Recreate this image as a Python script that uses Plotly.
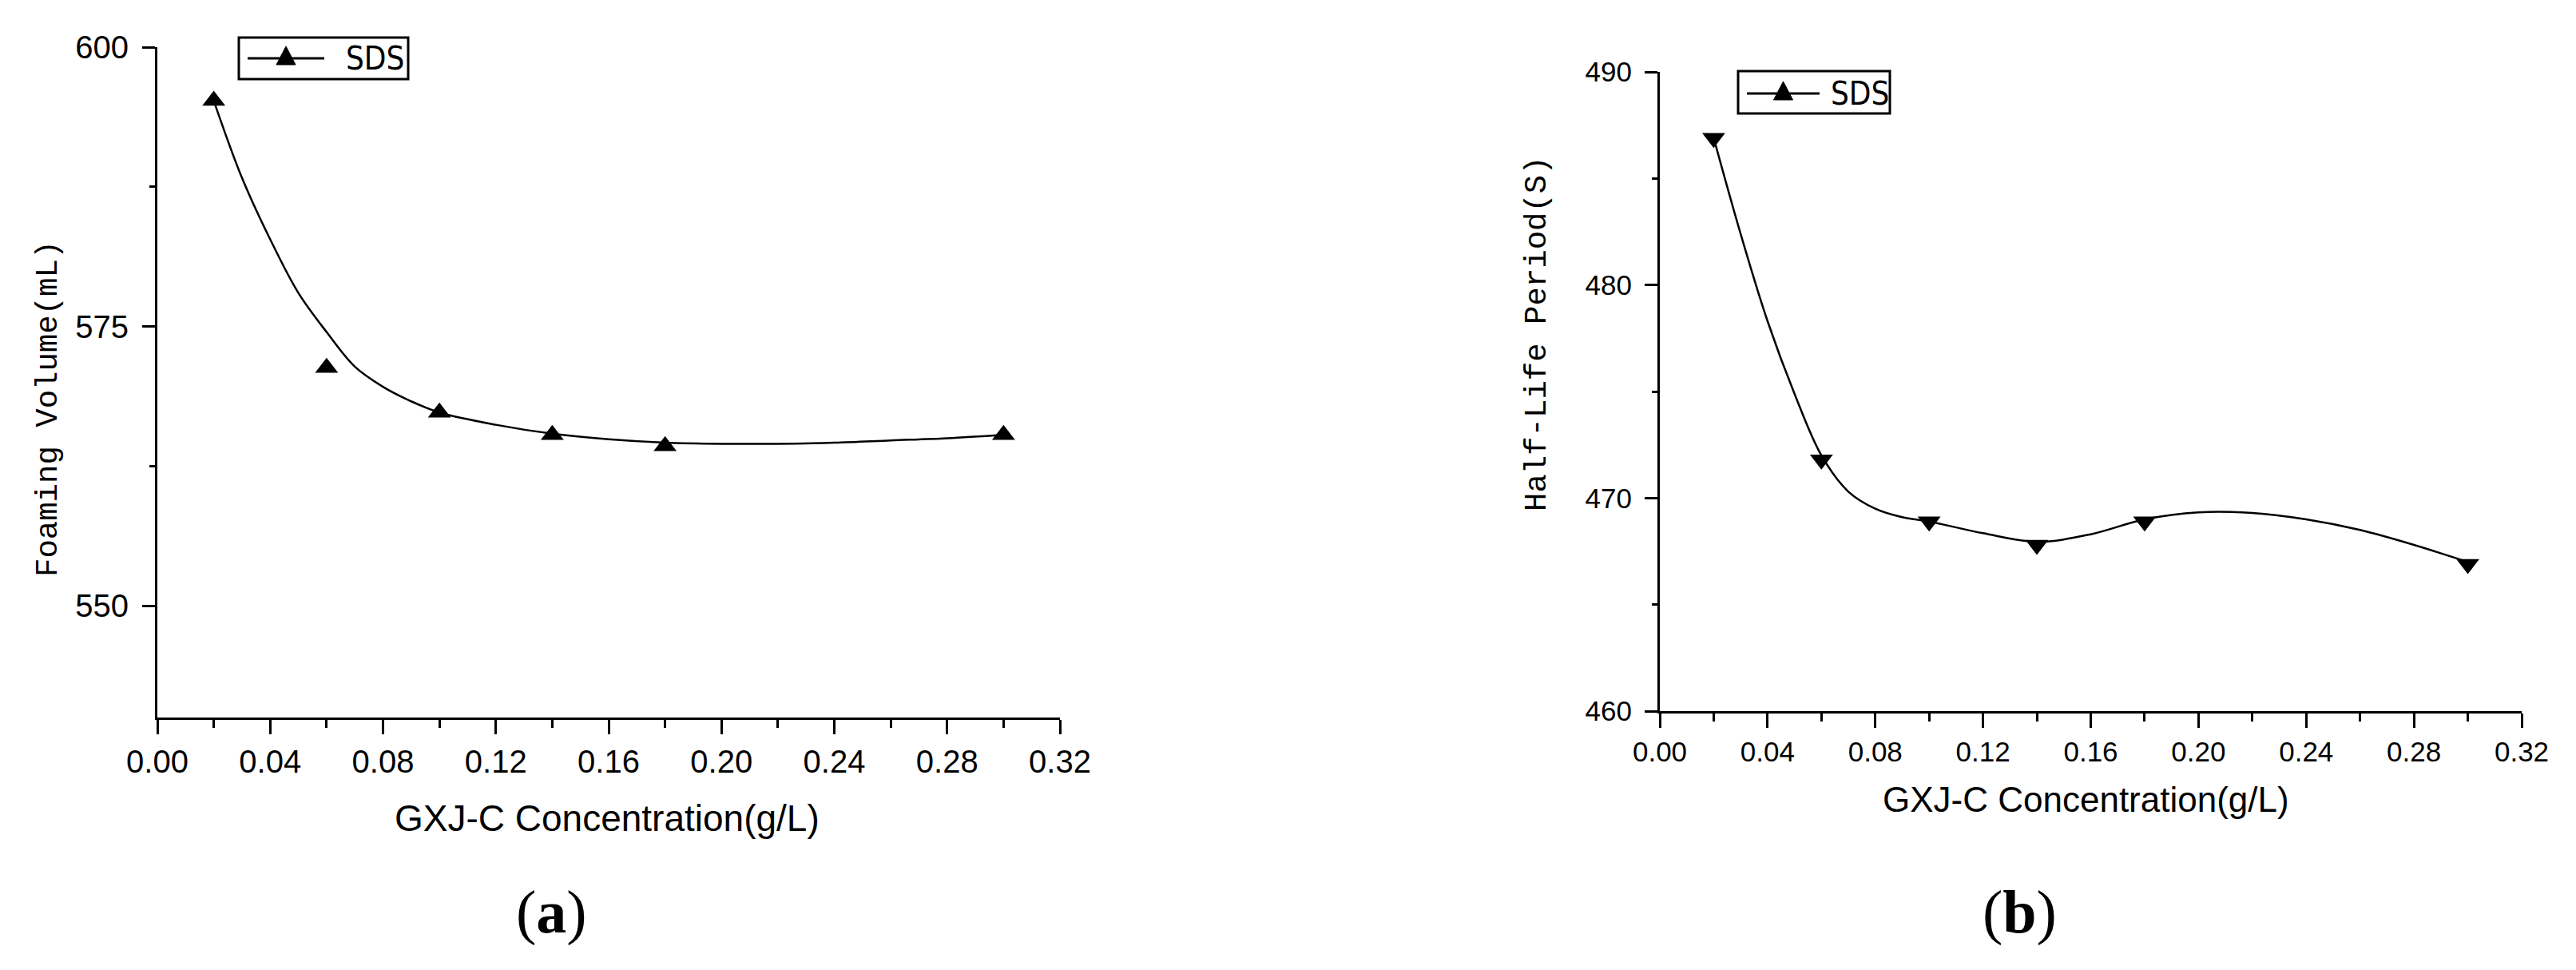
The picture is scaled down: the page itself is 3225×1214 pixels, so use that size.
import plotly.graph_objects as go

# ---- data ----
conc = [0.02, 0.06, 0.10, 0.14, 0.18, 0.30]
foam_volume = [595.2, 571.3, 567.3, 565.3, 564.3, 565.3]   # (a) mL
half_life = [486.9, 471.8, 468.9, 467.8, 468.9, 466.9]     # (b) s

# smoothed fit curves as drawn in the figure (sampled by eye)
curve_x = [0.02, 0.03, 0.04, 0.05, 0.06, 0.07, 0.08, 0.09, 0.10, 0.12,
           0.14, 0.16, 0.18, 0.20, 0.22, 0.24, 0.26, 0.28, 0.30]
foam_curve = [595.2, 588.3, 582.8, 578.0, 574.5, 571.4, 569.6, 568.3, 567.3, 566.2,
              565.4, 564.9, 564.6, 564.5, 564.5, 564.6, 564.8, 565.0, 565.3]
half_curve = [486.9, 482.4, 478.3, 474.9, 472.0, 470.3, 469.5, 469.1, 468.9, 468.35,
              467.95, 468.3, 469.0, 469.33, 469.3, 469.0, 468.5, 467.8, 467.0]

x_ticks = [0.00, 0.04, 0.08, 0.12, 0.16, 0.20, 0.24, 0.28, 0.32]
x_title = "GXJ-C Concentration(g/L)"
series_name = "SDS"

W, H = 3225, 1214
OFF = 8  # the page body margin shifts the figure by this much


def px(x):
    return (x - OFF) / W


def py(y):
    return 1 - (y - OFF) / H


SANS = "Liberation Sans, Arial, sans-serif"
MONO = "Liberation Mono, Courier New, monospace"
COND = "DejaVu Sans Condensed, Liberation Sans, sans-serif"

fig = go.Figure()

# ----------------------------
# (a) foaming volume
# ----------------------------
fig.add_trace(go.Scatter(x=curve_x, y=foam_curve, mode="lines", line=dict(color="black", width=2.5, shape="spline"),
                         xaxis="x", yaxis="y", showlegend=False, hoverinfo="skip"))
fig.add_trace(go.Scatter(x=conc, y=foam_volume, mode="markers", name=series_name,
                         marker=dict(symbol="triangle-up", size=25, color="black"),
                         xaxis="x", yaxis="y", showlegend=False))

# ----------------------------
# (b) half-life
# ----------------------------
fig.add_trace(go.Scatter(x=curve_x, y=half_curve, mode="lines", line=dict(color="black", width=2.5, shape="spline"),
                         xaxis="x2", yaxis="y2", showlegend=False, hoverinfo="skip"))
fig.add_trace(go.Scatter(x=conc, y=half_life, mode="markers", name=series_name,
                         marker=dict(symbol="triangle-down", size=25, color="black"),
                         xaxis="x2", yaxis="y2", showlegend=False))


def xaxis_style(domain, anchor, fsize):
    return dict(domain=domain, anchor=anchor, range=[0, 0.32], tickvals=x_ticks, tickformat=".2f",
                automargin=False,
                showline=True, linecolor="black", linewidth=3, showgrid=False, zeroline=False,
                ticks="outside", ticklen=18, tickwidth=3, tickcolor="black",
                tickfont=dict(family=SANS, size=fsize, color="black"),
                ticklabelstandoff=0,
                minor=dict(dtick=0.02, tick0=0, ticks="outside", ticklen=10, tickwidth=3, tickcolor="black"))


def yaxis_style(domain, anchor, rng, dtick, tick0, fsize):
    return dict(domain=domain, anchor=anchor, range=rng, dtick=dtick, tick0=tick0,
                automargin=False,
                showline=True, linecolor="black", linewidth=3, showgrid=False, zeroline=False,
                ticks="outside", ticklen=16, tickwidth=3, tickcolor="black",
                tickfont=dict(family=SANS, size=fsize, color="black"),
                ticklabelstandoff=9,
                minor=dict(dtick=dtick / 2, tick0=tick0, ticks="outside", ticklen=7, tickwidth=3, tickcolor="black"))


fig.update_layout(
    width=W, height=H,
    margin=dict(l=0, r=0, t=0, b=0, pad=0, autoexpand=False),
    paper_bgcolor="white", plot_bgcolor="white",
    xaxis=xaxis_style([px(197), px(1327)], "y", 40),
    yaxis=yaxis_style([py(898), py(59)], "x", [540, 600], 25, 550, 40),
    xaxis2=xaxis_style([px(2078), px(3157)], "y2", 35),
    yaxis2=yaxis_style([py(890), py(90)], "x2", [460, 490], 10, 460, 35),
)

# ----------------------------
# titles and panel labels
# ----------------------------
ann = [
    (61, 512, "Foaming Volume(mL)", MONO, 39, -90),
    (1925, 418, "Half-Life Period(S)", MONO, 39, -90),
    (760, 1024, x_title, SANS, 46, 0),
    (2611, 1000, x_title, SANS, 44, 0),
    (690, 1141, "(<b>a</b>)", "Liberation Serif, Times New Roman, serif", 76, 0),
    (2528, 1141, "(<b>b</b>)", "Liberation Serif, Times New Roman, serif", 76, 0),
]
for x, y, t, fam, sz, ang in ann:
    fig.add_annotation(x=px(x), y=py(y), xref="paper", yref="paper", text=t, showarrow=False,
                       textangle=ang, xanchor="center", yanchor="middle",
                       font=dict(family=fam, size=sz, color="black"))

# ----------------------------
# hand-drawn legend boxes (line + up triangle + "SDS")
# ----------------------------
legends = [
    dict(box=(299, 47, 511, 99), line=(310, 406), cy=73, tx=431),
    dict(box=(2176, 89, 2366, 142), line=(2187, 2278), cy=117, tx=2290),
]
for lg in legends:
    x0, y0, x1, y1 = lg["box"]
    fig.add_shape(type="rect", xref="paper", yref="paper", x0=px(x0), y0=py(y0), x1=px(x1), y1=py(y1),
                  line=dict(color="black", width=3), fillcolor="white")
    la, lb = lg["line"]
    cy = lg["cy"]
    fig.add_shape(type="line", xref="paper", yref="paper", x0=px(la), y0=py(cy), x1=px(lb), y1=py(cy),
                  line=dict(color="black", width=3))
    cx = (la + lb) / 2
    tri = f"M {px(cx - 12)} {py(cy + 8)} L {px(cx + 12)} {py(cy + 8)} L {px(cx)} {py(cy - 15)} Z"
    fig.add_shape(type="path", xref="paper", yref="paper", path=tri, fillcolor="black",
                  line=dict(color="black", width=1))
    fig.add_annotation(x=px(lg["tx"]), y=py(cy), xref="paper", yref="paper", text=series_name,
                       showarrow=False, xanchor="left", yanchor="middle",
                       font=dict(family=COND, size=40, color="black"))

fig.write_html("out.html")
